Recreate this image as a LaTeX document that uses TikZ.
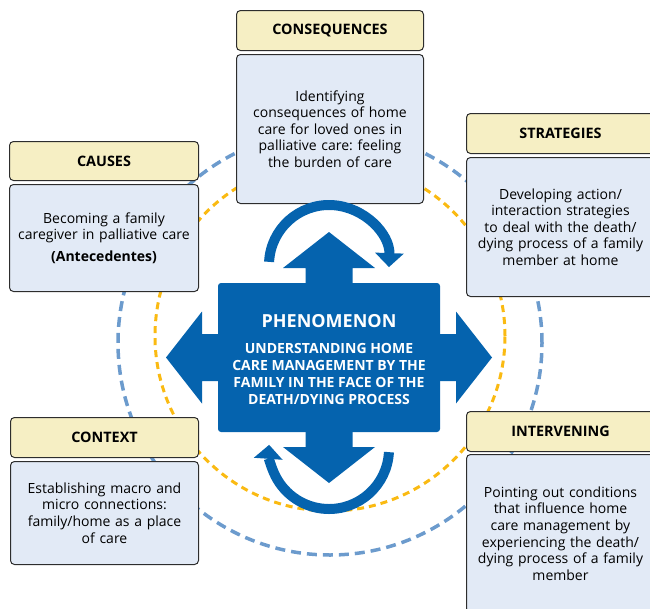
\documentclass[tikz,border=0pt]{standalone}
\usepackage{fontspec}
\setmainfont{Open Sans}
\usetikzlibrary{arrows.meta}
\frenchspacing

\definecolor{phenblue}{RGB}{5,99,174}
\definecolor{ringblue}{RGB}{108,155,205}
\definecolor{ringyellow}{RGB}{250,186,18}
\definecolor{headfill}{RGB}{246,239,196}
\definecolor{bodyfill}{RGB}{226,234,246}
\definecolor{boxline}{RGB}{45,45,45}

\tikzset{
    head/.style={draw=boxline, fill=headfill, rounded corners=4pt, line width=1pt, anchor=north west,
        inner sep=0pt, minimum height=40pt, align=center, font=\fontsize{14.4}{17}\selectfont\bfseries},
    body/.style={draw=boxline, fill=bodyfill, rounded corners=4pt, line width=1pt, anchor=north west,
        inner sep=0pt, align=center, font=\fontsize{14}{16.6}\selectfont},
}

\begin{document}
\begin{tikzpicture}[x=1pt, y=1pt]

    % Page size
    \def\W{650}
    \def\H{608}
    % Center of the phenomenon
    \def\cx{329}
    \def\cy{-357.5}
    \def\hl{36}    % head length
    \def\hw{46}    % head half width
    \def\sw{23.5}  % shaft half width
    \def\rr{60pt}  % radius, turning arrows

    \useasboundingbox (0,0) rectangle (\W,-\H);
    \clip (0,0) rectangle (\W,-\H);

    % Dashed rings
    \draw[ringblue, line width=3.5pt, dash pattern=on 10pt off 6pt] (330,-343) circle (212pt);
    \draw[ringyellow, line width=3pt, dash pattern=on 7pt off 5pt] (330,-336) circle (175pt);

    % Consequences
    \node[head, text width=187pt] (conshead) at (236,-10) {CONSEQUENCES};
    \node[body, text width=187pt, minimum height=149pt] (consbody) at (236,-54)
        {Identifying\\ consequences of home\\ care for loved ones in\\ palliative care: feeling\\ the burden of care};

    % Causes
    \node[head, text width=189pt, minimum height=39pt] (caushead) at (9,-141) {CAUSES};
    \node[body, text width=189pt, minimum height=107pt] (causbody) at (9,-184)
        {Becoming a family\\ caregiver in palliative care\\[5pt] \textbf{(Antecedentes)}};

    % Strategies
    \node[head, text width=188pt] (strathead) at (466,-113) {STRATEGIES};
    \node[body, text width=188pt, minimum height=139pt] (stratbody) at (466,-157)
        {Developing action/\\ interaction strategies\\ to deal with the death/\\ dying process of a family\\ member at home};

    % Intervening
    \node[head, text width=188pt] (intvhead) at (466,-411) {INTERVENING};
    \node[body, text width=188pt, minimum height=158pt] (intvbody) at (466,-454)
        {Pointing out conditions\\ that influence home\\ care management by\\ experiencing the death/\\ dying process of a family\\ member};

    % Context
    \node[head, text width=188pt] (conthead) at (10,-417) {CONTEXT};
    \node[body, text width=188pt, minimum height=103pt] (contbody) at (10,-461)
        {Establishing macro and\\ micro connections:\\ family/home as a place\\ of care};

    % Phenomenon, box and arrows
    \fill[phenblue, rounded corners=3pt] (218,-283) rectangle (440,-432);
    \foreach \ang/\len in {0/163, 90/125.5, 180/163, 270/125.5}{
        \fill[phenblue, shift={(\cx,\cy)}, rotate=\ang] (0,\sw) -- (\len-\hl,\sw) -- (\len-\hl,\hw)
            -- (\len,0) -- (\len-\hl,-\hw) -- (\len-\hl,-\sw) -- (0,-\sw) -- cycle;
    }

    % Turning arrows
    \draw[phenblue, line width=10pt, -{Triangle[width=28pt, length=14pt]}]
        (\cx,-265) ++(177:\rr) arc[start angle=177, end angle=-2, radius=\rr];
    \draw[phenblue, line width=10pt, -{Triangle[width=28pt, length=14pt]}]
        (\cx,-449) ++(-3:\rr) arc[start angle=-3, end angle=-184, radius=\rr];

    \node[text=white, align=center, font=\fontsize{14}{17}\selectfont\bfseries] (phen) at (\cx,-360)
        {{\fontsize{18}{20}\selectfont PHENOMENON}\\[9pt] UNDERSTANDING HOME\\ CARE MANAGEMENT BY THE\\
         FAMILY IN THE FACE OF THE\\ DEATH/DYING PROCESS};

\end{tikzpicture}
\end{document}
